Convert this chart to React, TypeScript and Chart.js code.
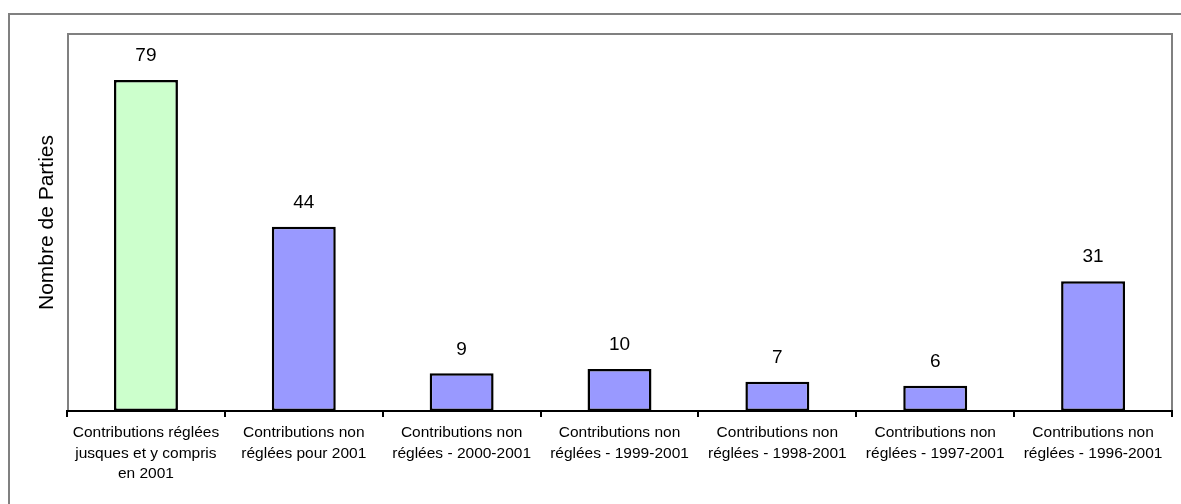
import React, { useEffect, useRef } from "react";
import { Chart, registerables } from "chart.js";

Chart.register(...registerables);

const categories: string[][] = [
  ["Contributions réglées", "jusques et y compris", "en 2001"],
  ["Contributions non", "réglées pour 2001"],
  ["Contributions non", "réglées - 2000-2001"],
  ["Contributions non", "réglées - 1999-2001"],
  ["Contributions non", "réglées - 1998-2001"],
  ["Contributions non", "réglées - 1997-2001"],
  ["Contributions non", "réglées - 1996-2001"],
];
const values: number[] = [79, 44, 9, 10, 7, 6, 31];
const barColors: string[] = [
  "#CCFFCC",
  "#9999FF",
  "#9999FF",
  "#9999FF",
  "#9999FF",
  "#9999FF",
  "#9999FF",
];
const yTitle = "Nombre de Parties";
const yMin = 0;
const yMax = 90;

const FONT = "Arial, 'Liberation Sans', sans-serif";

const framePlugin = {
  id: "framePlugin",
  beforeDraw(chart: any) {
    const { ctx, chartArea } = chart;
    ctx.save();
    ctx.fillStyle = "#ffffff";
    ctx.fillRect(0, 0, chart.width, chart.height);
    ctx.strokeStyle = "#808080";
    ctx.lineWidth = 2;
    // outer frame
    ctx.beginPath();
    ctx.moveTo(9, chart.height);
    ctx.lineTo(9, 14);
    ctx.lineTo(chart.width, 14);
    ctx.stroke();
    // plot area frame
    ctx.beginPath();
    ctx.moveTo(chartArea.left + 1, chartArea.bottom);
    ctx.lineTo(chartArea.left + 1, chartArea.top);
    ctx.lineTo(chartArea.right, chartArea.top);
    ctx.lineTo(chartArea.right, chartArea.bottom);
    ctx.stroke();
    ctx.restore();
  },
  afterDatasetsDraw(chart: any) {
    const { ctx } = chart;
    const meta = chart.getDatasetMeta(0);
    ctx.save();
    ctx.font = `19px ${FONT}`;
    ctx.fillStyle = "#000000";
    ctx.textAlign = "center";
    ctx.textBaseline = "middle";
    meta.data.forEach((el: any, i: number) => {
      ctx.fillText(String(values[i]), el.x, el.y - 24);
    });
    ctx.restore();
  },
};

export default function App() {
  const ref = useRef<HTMLCanvasElement | null>(null);

  useEffect(() => {
    if (!ref.current) return;
    const chart = new Chart(ref.current, {
      type: "bar",
      data: {
        labels: categories,
        datasets: [
          {
            data: values,
            backgroundColor: barColors,
            borderColor: "#000000",
            borderWidth: 2.5,
            borderSkipped: false,
            categoryPercentage: 1,
            barPercentage: 0.405,
          },
        ],
      },
      options: {
        animation: false,
        responsive: true,
        maintainAspectRatio: false,
        layout: { padding: { top: 34, right: 9, left: 0, bottom: 0 } },
        plugins: {
          legend: { display: false },
          tooltip: { enabled: false },
          title: { display: false },
        },
        scales: {
          x: {
            type: "category",
            grid: {
              display: true,
              offset: true,
              drawOnChartArea: false,
              drawTicks: true,
              tickLength: 6,
              color: "#000000",
              lineWidth: 2,
            },
            border: { display: true, color: "#000000", width: 2 },
            ticks: {
              color: "#000000",
              padding: 6,
              maxRotation: 0,
              autoSkip: false,
              font: { family: FONT, size: 15.5, lineHeight: 1.3 },
            },
            afterFit(scale: any) {
              scale.height = 93;
            },
          },
          y: {
            min: yMin,
            max: yMax,
            grid: { display: false },
            border: { display: false },
            ticks: { display: false },
            title: {
              display: true,
              text: yTitle,
              color: "#000000",
              font: { family: FONT, size: 21 },
              padding: { top: 35, bottom: 0 },
            },
            afterFit(scale: any) {
              scale.width = 67;
            },
          },
        },
      },
      plugins: [framePlugin],
    });
    return () => chart.destroy();
  }, []);

  return (
    <div
      style={{
        position: "fixed",
        left: 0,
        top: 0,
        width: 1181,
        height: 504,
        background: "#ffffff",
      }}
    >
      <canvas ref={ref} />
    </div>
  );
}
